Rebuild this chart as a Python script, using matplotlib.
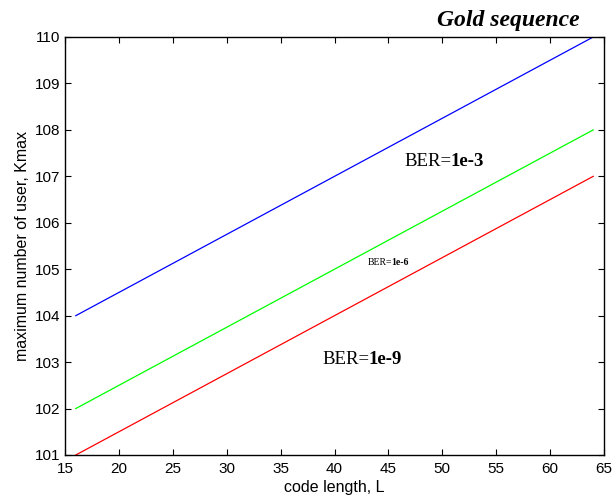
import numpy as np
import matplotlib
matplotlib.use("Agg")
import matplotlib.pyplot as plt

# code length range and max users for each BER target
code_length = [16, 64]
kmax_ber_1e3 = [104, 110]
kmax_ber_1e6 = [102, 108]
kmax_ber_1e9 = [101, 107]

series = [
    (kmax_ber_1e3, "#0000ff"),
    (kmax_ber_1e6, "#00ff00"),
    (kmax_ber_1e9, "#ff0000"),
]

# label text: (x, y, value, fontsize)
labels = [
    (46.5, 107.22, "1e-3", 13.5),
    (43.1, 105.1, "1e-6", 7),
    (38.9, 102.95, "1e-9", 13.5),
]

fig = plt.figure(figsize=(6.15, 4.97), dpi=100)
ax = fig.add_axes([65 / 615, 1 - 455 / 497, (604 - 65) / 615, (455 - 37) / 497])

for vals, col in series:
    ax.plot(code_length, vals, color=col, lw=0.9)

ax.set_xlim(15, 65)
ax.set_ylim(101, 110)
ax.set_xticks(np.arange(15, 66, 5))
ax.set_yticks(np.arange(101, 111, 1))
ax.tick_params(direction="in", length=4, width=0.8, labelsize=11,
               top=True, right=True)
ax.tick_params(axis="x", pad=5)
for lab in ax.get_xticklabels() + ax.get_yticklabels():
    lab.set_fontfamily("Liberation Sans")
for s in ax.spines.values():
    s.set_linewidth(1.0)

ax.set_xlabel("code length, L", fontsize=11.5, family="Liberation Sans", labelpad=3)
ax.set_ylabel("maximum number of user, Kmax", fontsize=11.5, family="Liberation Sans", labelpad=3)

for x, y, val, fs in labels:
    t = ax.text(x, y, "BER=", fontsize=fs, family="Liberation Serif",
                va="baseline", ha="left")
    ax.annotate(val, xy=(1, 0), xycoords=t, xytext=(-1, 0),
                textcoords="offset points", fontsize=fs, family="Liberation Serif",
                fontweight="bold", va="bottom", ha="left")

fig.text(580 / 615, 1 - 26 / 497, "Gold sequence", fontsize=17,
         family="Liberation Serif", fontweight="bold", style="italic",
         ha="right", va="baseline")

fig.savefig("out.png", dpi=100)
